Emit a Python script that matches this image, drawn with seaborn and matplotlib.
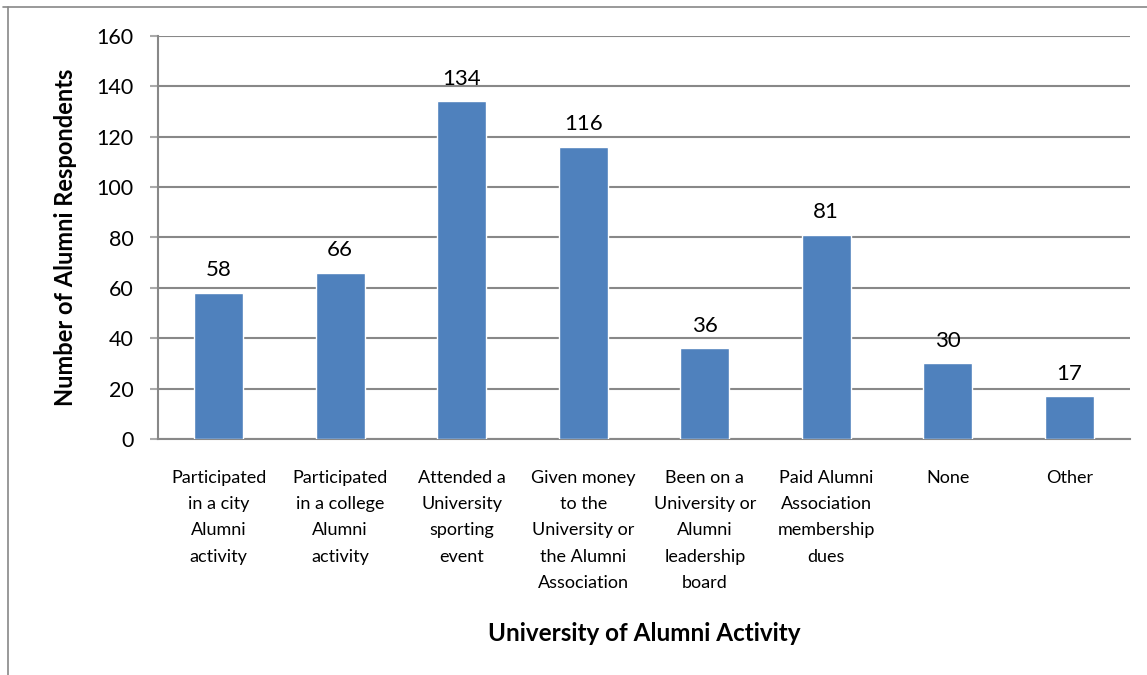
import matplotlib
matplotlib.use("Agg")
import matplotlib.pyplot as plt
import seaborn as sns
import pandas as pd
from matplotlib.lines import Line2D

categories = [
    "Participated\nin a city\nAlumni\nactivity",
    "Participated\nin a college\nAlumni\nactivity",
    "Attended a\nUniversity\nsporting\nevent",
    "Given money\nto the\nUniversity or\nthe Alumni\nAssociation",
    "Been on a\nUniversity or\nAlumni\nleadership\nboard",
    "Paid Alumni\nAssociation\nmembership\ndues",
    "None",
    "Other",
]
values = [58, 66, 134, 116, 36, 81, 30, 17]
yticks = [0, 20, 40, 60, 80, 100, 120, 140, 160]

sns.set_theme(style="white")
plt.rcParams['font.family'] = ['Lato', 'DejaVu Sans']

df = pd.DataFrame({"cat": categories, "val": values})

fig = plt.figure(figsize=(11.47, 6.75), dpi=100)
ax = fig.add_axes([158/1147, 1-439/675, (1130-158)/1147, (439-36)/675])

sns.barplot(data=df, x="cat", y="val", color="#4F81BD", saturation=1,
            width=0.4, ax=ax, zorder=3)

ax.set_ylim(0, 160)
ax.set_yticks(yticks)
ax.set_xlim(-0.5, len(categories) - 0.5)
ax.yaxis.grid(True, color="#888888", linewidth=1.5, zorder=0)
ax.xaxis.grid(False)
for s in ["top", "right"]:
    ax.spines[s].set_visible(False)
ax.spines["left"].set_color("#888888")
ax.spines["left"].set_linewidth(1.5)
ax.spines["bottom"].set_color("#888888")
ax.spines["bottom"].set_linewidth(1.5)
ax.tick_params(axis="y", left=True, length=5.8, width=1.5, color="#aaaaaa",
               labelsize=15.5, pad=12, labelcolor="black")
ax.tick_params(axis="x", bottom=False, labelsize=13, pad=16, labelcolor="black")
for lbl in ax.get_xticklabels():
    lbl.set_linespacing(1.8)
    lbl.set_va("top")

for i, v in enumerate(values):
    ax.text(i, v + 5, str(v), ha="center", va="bottom", fontsize=16, color="black")

ax.set_ylabel("Number of Alumni Respondents", fontsize=17, fontweight="bold",
              color="black", labelpad=14)
ax.set_xlabel("University of Alumni Activity", fontsize=17.5, fontweight="bold",
              color="black", labelpad=22)

# outer chart border (partially visible)
fig.add_artist(Line2D([3/1147, 1.0], [1-7/675, 1-7/675], transform=fig.transFigure,
                      color="#888888", linewidth=1.2))
fig.add_artist(Line2D([8/1147, 8/1147], [1-7/675, 0.0], transform=fig.transFigure,
                      color="#888888", linewidth=1.2))

fig.savefig("out.png", dpi=100)
